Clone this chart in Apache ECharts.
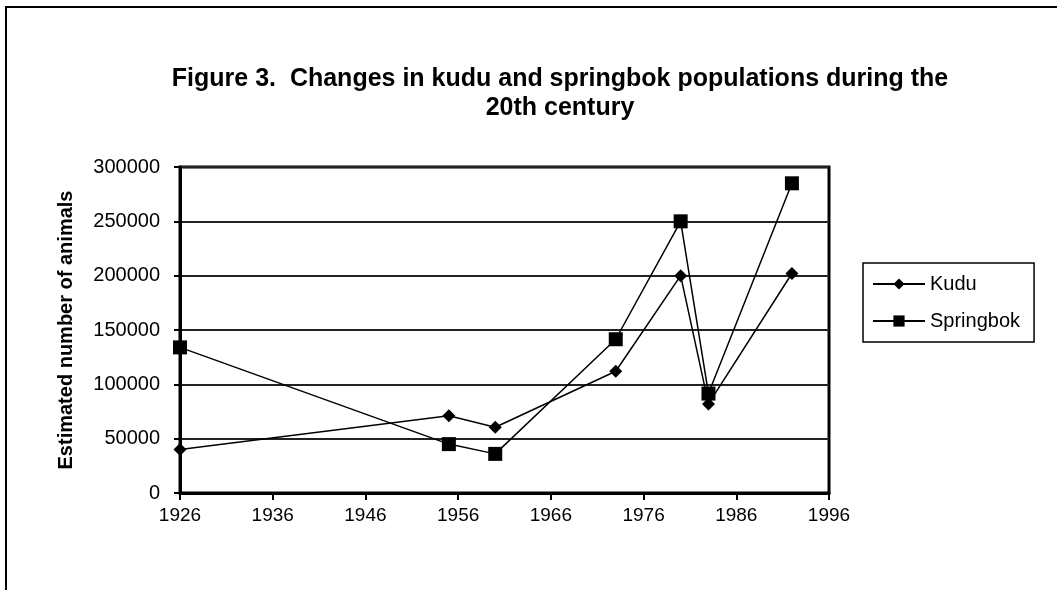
<!DOCTYPE html>
<html>
<head>
<meta charset="utf-8">
<script src="https://cdn.jsdelivr.net/npm/echarts@6/dist/echarts.min.js"></script>
<style>
  html, body { margin: 0; padding: 0; background: #fff; }
  #main { width: 1057px; height: 590px; }
</style>
</head>
<body>
<div id="main"></div>
<script>
// data
var years = [1926, 1955, 1960, 1973, 1980, 1983, 1992];
var kudu = [40000, 71000, 60500, 112000, 200000, 82000, 202000];
var springbok = [134000, 45000, 36000, 141500, 250000, 91500, 285000];
var xTicks = [1926, 1936, 1946, 1956, 1966, 1976, 1986, 1996];

function pairs(xs, ys) {
	var out = [];
	for (var i = 0; i < xs.length; i++) {
		out.push([xs[i], ys[i]]);
	}
	return out;
}

var chart = echarts.init(document.getElementById('main'));
var font = 'Liberation Sans, Arial, sans-serif';

var option = {
	backgroundColor: '#fff',
	animation: false,
	textStyle: { fontFamily: font, color: '#000' },
	title: {
		text: 'Figure 3.  Changes in kudu and springbok populations during the\n20th century',
		left: 555,
		top: 60,
		textAlign: 'center',
		textStyle: {
			fontFamily: font,
			fontSize: 25,
			fontWeight: 'bold',
			color: '#000',
			lineHeight: 29
		}
	},
	legend: {
		orient: 'vertical',
		left: 863,
		top: 263,
		padding: [11, 14, 11, 9],
		itemGap: 17,
		itemWidth: 52,
		itemHeight: 14,
		borderColor: '#000',
		borderWidth: 1.5,
		textStyle: { fontFamily: font, fontSize: 20, color: '#000' },
		data: ['Kudu', 'Springbok']
	},
	grid: {
		left: 180,
		top: 167,
		right: 228,
		bottom: 97,
		show: true,
		borderColor: '#000',
		borderWidth: 3
	},
	xAxis: {
		type: 'value',
		min: xTicks[0],
		max: xTicks[xTicks.length - 1],
		interval: 10,
		axisLine: { show: true, onZero: false, lineStyle: { color: '#000', width: 3 } },
		axisTick: { show: true, length: 7, lineStyle: { color: '#000', width: 2 } },
		splitLine: { show: false },
		axisLabel: {
			color: '#000', fontSize: 19, margin: 13, fontFamily: font,
			formatter: function(v) { return String(v); }
		}
	},
	yAxis: {
		type: 'value',
		min: 0,
		max: 300000,
		interval: 50000,
		name: 'Estimated number of animals',
		nameLocation: 'middle',
		nameGap: 104,
		nameTextStyle: { fontFamily: font, fontSize: 20, fontWeight: 'bold', color: '#000' },
		axisLine: { show: true, lineStyle: { color: '#000', width: 3 } },
		axisTick: { show: true, length: 6, lineStyle: { color: '#000', width: 2 } },
		splitLine: { show: true, lineStyle: { color: '#222', width: 2 } },
		axisLabel: {
			color: '#000', fontSize: 20, margin: 20, fontFamily: font,
			formatter: function(v) { return String(v); }
		}
	},
	graphic: [{
		type: 'rect',
		shape: { x: 6, y: 7, width: 1200, height: 700 },
		style: { fill: null, stroke: '#000', lineWidth: 2 },
		silent: true
	}],
	series: [{
		name: 'Kudu',
		type: 'line',
		data: pairs(years, kudu),
		symbol: 'diamond',
		symbolSize: 13,
		itemStyle: { color: '#000' },
		lineStyle: { color: '#000', width: 1.5 }
	}, {
		name: 'Springbok',
		type: 'line',
		data: pairs(years, springbok),
		symbol: 'rect',
		symbolSize: 14,
		itemStyle: { color: '#000' },
		lineStyle: { color: '#000', width: 1.5 }
	}]
};

chart.setOption(option);
</script>
</body>
</html>
